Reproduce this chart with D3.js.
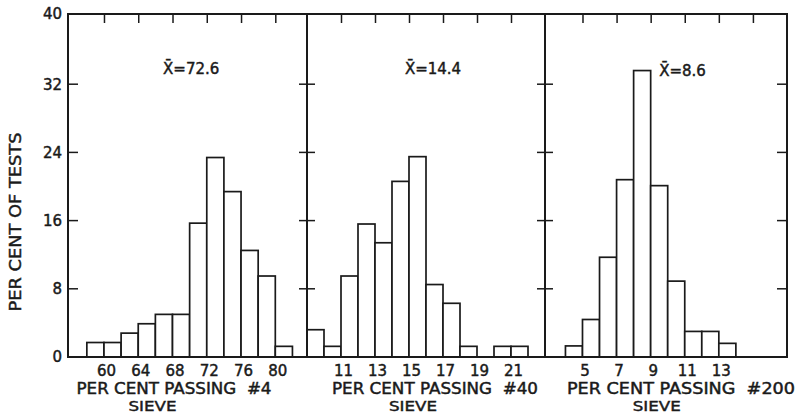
<!DOCTYPE html>
<html><head><meta charset="utf-8">
<script src="https://cdn.jsdelivr.net/npm/d3@7"></script>
<style>
html,body{margin:0;padding:0;background:#fff;}
text{font-family:"DejaVu Sans",sans-serif;fill:#1a1a1a;stroke:#1a1a1a;stroke-width:0.45px;}
</style></head>
<body><svg id="c" width="797" height="415"></svg>
<script>
// ---- data ----
const yTickValues = [0, 8, 16, 24, 32, 40];
const yLabel = "PER CENT OF TESTS";

const sieve4Starts = [58, 60, 62, 64, 66, 68, 70, 72, 74, 76, 78, 80];
const sieve4Values = [1.7, 1.7, 2.8, 3.9, 5.0, 5.0, 15.7, 23.4, 19.4, 12.5, 9.5, 1.25];
const sieve4Ticks = [60, 64, 68, 72, 76, 80];
const sieve4Mean = "X̄=72.6";
const sieve4Title = "PER CENT PASSING  #4";

const sieve40Starts = [9, 10, 11, 12, 13, 14, 15, 16, 17, 18, 20, 21];
const sieve40Values = [3.2, 1.25, 9.5, 15.6, 13.4, 20.6, 23.5, 8.5, 6.3, 1.25, 1.25, 1.25];
const sieve40Ticks = [11, 13, 15, 17, 19, 21];
const sieve40Mean = "X̄=14.4";
const sieve40Title = "PER CENT PASSING  #40";

const sieve200Starts = [4, 5, 6, 7, 8, 9, 10, 11, 12, 13];
const sieve200Values = [1.3, 4.4, 11.7, 20.8, 33.6, 20.1, 8.9, 3.0, 3.0, 1.6];
const sieve200Ticks = [5, 7, 9, 11, 13];
const sieve200TopTicks = [5, 7, 9, 11, 13, 15];
const sieve200Mean = "X̄=8.6";
const sieve200Title = "PER CENT PASSING  #200";

const subTitle = "SIEVE";

// ---- layout ----
const svg = d3.select("#c");
const topY = 14, bottomY = 357;
const y = d3.scaleLinear().domain([0, 40]).range([bottomY, 16]);
const ink = "#1a1a1a";

const panels = [
  {starts: sieve4Starts, values: sieve4Values, w: 2, ticks: sieve4Ticks, topTicks: sieve4Ticks,
   domain: [55.8, 83.7], range: [68, 307], mean: sieve4Mean, meanAt: 66.9, meanY: 68,
   title: sieve4Title, titleX: 174, titleW: 195, subX: 152.5},
  {starts: sieve40Starts, values: sieve40Values, w: 1, ticks: sieve40Ticks, topTicks: sieve40Ticks,
   domain: [9, 23], range: [307, 545], mean: sieve40Mean, meanAt: 14.76, meanY: 68,
   title: sieve40Title, titleX: 435, titleW: 206, subX: 413},
  {starts: sieve200Starts, values: sieve200Values, w: 1, ticks: sieve200Ticks, topTicks: sieve200TopTicks,
   domain: [2.8, 17], range: [545, 787], mean: sieve200Mean, meanAt: 9.5, meanY: 70,
   title: sieve200Title, titleX: 681, titleW: 228, subX: 656.7}
];

panels.forEach((p, i) => {
  const x = d3.scaleLinear().domain(p.domain).range(p.range);
  const g = svg.append("g");
  g.selectAll("rect.bar").data(p.starts.map((s, k) => ({s, v: p.values[k]})))
    .enter().append("rect").attr("class", "bar")
    .attr("x", d => x(d.s)).attr("width", d => x(d.s + p.w) - x(d.s))
    .attr("y", d => y(d.v)).attr("height", d => y(0) - y(d.v))
    .attr("fill", "#fff").attr("stroke", ink).attr("stroke-width", 1.7);
  const topAxis = d3.axisTop(x).tickValues(p.topTicks).tickSize(-9).tickFormat("");
  const ta = g.append("g").attr("transform", `translate(0,${topY})`).call(topAxis);
  ta.select(".domain").remove();
  ta.selectAll("line").attr("stroke", ink).attr("stroke-width", 1.5);
  const botAxis = d3.axisBottom(x).tickValues(p.ticks).tickSize(0).tickPadding(0);
  const ba = g.append("g").attr("transform", `translate(0,${bottomY})`).call(botAxis);
  ba.select(".domain").remove();
  ba.selectAll("text").attr("dy", 0).attr("y", 19).attr("dx", 2)
    .style("font-size", "15px").style("font-family", "'DejaVu Sans',sans-serif").attr("fill", ink);
  g.append("text").attr("x", x(p.meanAt)).attr("y", p.meanY + 6)
    .style("font-size", "15px").text(p.mean);
  g.append("text").attr("x", p.titleX).attr("y", 393.5).attr("text-anchor", "middle")
    .attr("textLength", p.titleW).attr("lengthAdjust", "spacingAndGlyphs")
    .style("font-size", "15px").style("white-space", "pre").text(p.title);
  g.append("text").attr("x", p.subX).attr("y", 411).attr("text-anchor", "middle")
    .attr("textLength", 48).attr("lengthAdjust", "spacingAndGlyphs")
    .style("font-size", "14.5px").text(subTitle);
});

const frame = svg.append("g").attr("fill", "none").attr("stroke", ink).attr("stroke-width", 2);
frame.append("rect").attr("x", 68).attr("y", topY).attr("width", 787 - 68).attr("height", bottomY - topY);
[307, 545].forEach(xx => frame.append("line").attr("x1", xx).attr("x2", xx).attr("y1", topY).attr("y2", bottomY));

const inner = yTickValues.filter(v => v > 0 && v < 40);
const tk = svg.append("g").attr("stroke", ink).attr("stroke-width", 1.5);
inner.forEach(v => {
  tk.append("line").attr("x1", 68).attr("x2", 78).attr("y1", y(v)).attr("y2", y(v));
  tk.append("line").attr("x1", 777).attr("x2", 787).attr("y1", y(v)).attr("y2", y(v));
  [307, 545].forEach(xx => tk.append("line").attr("x1", xx - 8).attr("x2", xx + 8).attr("y1", y(v)).attr("y2", y(v)));
});

const yl = d3.axisLeft(y).tickValues(yTickValues).tickSize(0).tickPadding(4);
const ya = svg.append("g").attr("transform", "translate(66,0)").call(yl);
ya.select(".domain").remove();
ya.selectAll("text").style("font-size", "15px").style("font-family", "'DejaVu Sans',sans-serif").attr("fill", ink);
ya.selectAll(".tick").filter(d => d === 40).attr("transform", `translate(0,${topY})`);

svg.append("text").attr("transform", "translate(21,222) rotate(-90)")
  .attr("text-anchor", "middle").attr("textLength", 179).attr("lengthAdjust", "spacingAndGlyphs")
  .style("font-size", "16px").text(yLabel);
</script>
</body></html>
